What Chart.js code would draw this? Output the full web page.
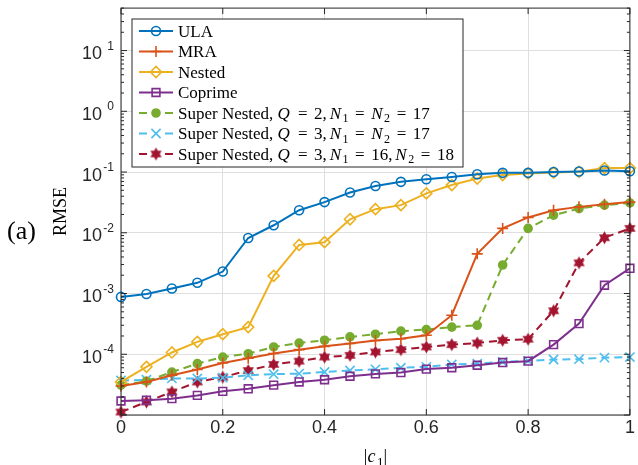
<!DOCTYPE html>
<html>
<head>
<meta charset="utf-8">
<script src="https://cdn.jsdelivr.net/npm/chart.js@4.4.1/dist/chart.umd.min.js"></script>
<style>
  html, body { margin: 0; padding: 0; background: #fff; }
</style>
</head>
<body>
<canvas id="rmse-chart" width="638" height="465"></canvas>
<script>
// |c1| sweep
const magnitudes = [0, 0.05, 0.1, 0.15, 0.2, 0.25, 0.3, 0.35, 0.4, 0.45, 0.5,
                    0.55, 0.6, 0.65, 0.7, 0.75, 0.8, 0.85, 0.9, 0.95, 1];

const seriesNames = [
    'ULA',
    'MRA',
    'Nested',
    'Coprime',
    'Super Nested, Q = 2, N₁ = N₂ = 17',
    'Super Nested, Q = 3, N₁ = N₂ = 17',
    'Super Nested, Q = 3, N₁ = 16, N₂ = 18'
];

const ula = [8.8e-4, 9.8e-4, 1.21e-3, 1.5e-3, 2.3e-3, 8.2e-3, 1.33e-2, 2.35e-2, 3.2e-2, 4.6e-2, 5.9e-2,
             6.9e-2, 7.6e-2, 8.3e-2, 9.2e-2, 9.7e-2, 9.7e-2, 0.1, 0.102, 0.106, 0.103];
const mra = [3.0e-5, 3.5e-5, 4.5e-5, 5.6e-5, 7.2e-5, 8.6e-5, 1.03e-4, 1.19e-4, 1.35e-4, 1.5e-4, 1.68e-4,
             1.8e-4, 2.05e-4, 4.4e-4, 4.5e-3, 1.18e-2, 1.79e-2, 2.35e-2, 2.67e-2, 2.96e-2, 3.2e-2];
const nested = [3.5e-5, 6.2e-5, 1.07e-4, 1.6e-4, 2.14e-4, 2.8e-4, 1.95e-3, 6.3e-3, 7.0e-3, 1.67e-2, 2.45e-2,
                2.85e-2, 4.45e-2, 6.1e-2, 7.8e-2, 8.9e-2, 9.5e-2, 9.8e-2, 0.101, 0.116, 0.116];
const coprime = [1.7e-5, 1.75e-5, 1.86e-5, 2.1e-5, 2.45e-5, 2.7e-5, 3.1e-5, 3.5e-5, 3.8e-5, 4.35e-5, 4.75e-5,
                 5.0e-5, 5.7e-5, 6.0e-5, 6.6e-5, 7.3e-5, 7.7e-5, 1.44e-4, 3.2e-4, 1.37e-3, 2.6e-3];
const superQ2 = [3.1e-5, 3.6e-5, 5.1e-5, 7.0e-5, 9.0e-5, 1.02e-4, 1.32e-4, 1.53e-4, 1.7e-4, 1.93e-4, 2.14e-4,
                 2.4e-4, 2.55e-4, 2.8e-4, 3.0e-4, 2.95e-3, 1.18e-2, 1.95e-2, 2.5e-2, 2.85e-2, 3.1e-2];
const superQ3 = [3.7e-5, 3.8e-5, 4.0e-5, 4.0e-5, 4.1e-5, 4.5e-5, 4.7e-5, 4.8e-5, 5.1e-5, 5.4e-5, 5.65e-5,
                 6.0e-5, 6.2e-5, 6.8e-5, 7.0e-5, 7.5e-5, 7.8e-5, 8.2e-5, 8.3e-5, 8.8e-5, 9.0e-5];
const superQ3b = [1.12e-5, 1.64e-5, 2.4e-5, 3.5e-5, 4.2e-5, 5.4e-5, 6.8e-5, 7.7e-5, 9.0e-5, 9.6e-5, 1.09e-4,
                  1.19e-4, 1.32e-4, 1.44e-4, 1.53e-4, 1.7e-4, 1.77e-4, 5.2e-4, 3.2e-3, 8.3e-3, 1.18e-2];

const xTicks = [0, 0.2, 0.4, 0.6, 0.8, 1];
const xTickLabels = ['0', '0.2', '0.4', '0.6', '0.8', '1'];
const yTicks = [1e-4, 1e-3, 1e-2, 1e-1, 1, 10];
const yTickExponents = ['-4', '-3', '-2', '-1', '0', '1'];
const yGrid = [1e-5, 1e-4, 1e-3, 1e-2, 1e-1, 1, 10];

const SERIF = '"Liberation Serif", "DejaVu Serif", serif';
const SANS = '"Liberation Sans", Arial, sans-serif';

// filled six-point star, MATLAB 'h' marker
function hexagram(color, r) {
    const c = document.createElement('canvas');
    const s = Math.ceil(r * 2 + 2);
    c.width = c.height = s;
    const g = c.getContext('2d');
    g.fillStyle = color;
    g.beginPath();
    for (let i = 0; i < 12; i++) {
        const a = -Math.PI / 2 + i * Math.PI / 6;
        const rr = i % 2 === 0 ? r : r * 0.577;
        g.lineTo(s / 2 + rr * Math.cos(a), s / 2 + rr * Math.sin(a));
    }
    g.closePath();
    g.fill();
    return c;
}

const styles = [
    { color: '#0072BD', marker: 'circle',   radius: 4.5, filled: false, dash: [] },
    { color: '#D95319', marker: 'cross',    radius: 5.5, filled: false, dash: [] },
    { color: '#EDB120', marker: 'rectRot',  radius: 5.5, filled: false, dash: [] },
    { color: '#7E2F8E', marker: 'rect',     radius: 5.5, filled: false, dash: [] },
    { color: '#77AC30', marker: 'circle',   radius: 4,   filled: true,  dash: [8, 5] },
    { color: '#4DBEEE', marker: 'crossRot', radius: 6.5, filled: false, dash: [8, 5] },
    { color: '#A2142F', marker: hexagram('#A2142F', 6.5), radius: 6, filled: true, dash: [8, 5] }
];

const allSeries = [ula, mra, nested, coprime, superQ2, superQ3, superQ3b];

const datasets = allSeries.map((vals, i) => ({
    label: seriesNames[i],
    data: vals.map((v, k) => ({ x: magnitudes[k], y: v })),
    borderColor: styles[i].color,
    borderWidth: 2,
    borderDash: styles[i].dash,
    pointStyle: styles[i].marker,
    pointRadius: styles[i].radius,
    pointBorderWidth: 1.6,
    pointBorderColor: styles[i].color,
    pointBackgroundColor: styles[i].filled ? styles[i].color : 'rgba(0,0,0,0)',
    tension: 0,
    clip: false
}));

// text with TeX-like math: italic letters, subscript digits, relation spacing
function drawRich(ctx, text, x, y, size, mathFrom, draw) {
    const subs = '₀₁₂₃₄₅₆₇₈₉';
    let cx = x;
    let i = 0;
    while (i < text.length) {
        const ch = text[i];
        const s = subs.indexOf(ch);
        const inMath = i >= mathFrom;
        if (s >= 0) {
            ctx.font = Math.round(size * 0.7) + 'px ' + SERIF;
            if (draw) ctx.fillText(String(s), cx, y + size * 0.22);
            cx += ctx.measureText(String(s)).width;
            i++;
        } else if (inMath && /[A-Za-z]/.test(ch)) {
            ctx.font = 'italic ' + size + 'px ' + SERIF;
            if (draw) ctx.fillText(ch, cx, y);
            cx += ctx.measureText(ch).width + 1.5;
            i++;
        } else if (inMath && ch === '=') {
            ctx.font = size + 'px ' + SERIF;
            const w = ctx.measureText('=').width;
            const cell = size * 0.78;
            if (draw) ctx.fillText('=', cx + (cell - w) / 2, y);
            cx += cell;
            i++;
        } else if (inMath && ch === ' ') {
            const nearRel = text[i - 1] === '=' || text[i + 1] === '=';
            cx += size * (nearRel ? 0.278 : 0.167);
            i++;
        } else {
            let run = '';
            while (i < text.length && subs.indexOf(text[i]) < 0 &&
                   !(i >= mathFrom && /[A-Za-z= ]/.test(text[i]))) {
                run += text[i];
                i++;
            }
            ctx.font = size + 'px ' + SERIF;
            if (draw) ctx.fillText(run, cx, y);
            cx += ctx.measureText(run).width;
        }
    }
    return cx - x;
}

function markerAt(ctx, st, x, y) {
    ctx.save();
    ctx.setLineDash([]);
    ctx.lineWidth = 1.6;
    ctx.strokeStyle = st.color;
    ctx.fillStyle = st.filled ? st.color : 'rgba(0,0,0,0)';
    Chart.helpers.drawPoint(ctx, { pointStyle: st.marker, radius: st.radius, borderWidth: 1.6, rotation: 0 }, x, y);
    ctx.restore();
}

const matlabDecor = {
    id: 'matlabDecor',
    afterDatasetsDraw(chart) {
        const { ctx, chartArea: a, scales: { x, y } } = chart;
        ctx.save();

        // axes box
        ctx.strokeStyle = '#262626';
        ctx.lineWidth = 1;
        ctx.strokeRect(a.left, a.top, a.right - a.left, a.bottom - a.top);

        // ticks, inward, both sides
        ctx.beginPath();
        xTicks.forEach(v => {
            const px = x.getPixelForValue(v);
            ctx.moveTo(px, a.bottom); ctx.lineTo(px, a.bottom - 6);
            ctx.moveTo(px, a.top); ctx.lineTo(px, a.top + 6);
        });
        for (let e = -5; e <= 1; e++) {
            for (let m = 1; m <= 9; m++) {
                const v = m * Math.pow(10, e);
                if (v > y.max) break;
                const py = y.getPixelForValue(v);
                const len = m === 1 ? 6 : 3;
                ctx.moveTo(a.left, py); ctx.lineTo(a.left + len, py);
                ctx.moveTo(a.right, py); ctx.lineTo(a.right - len, py);
            }
        }
        ctx.stroke();

        // tick labels
        ctx.fillStyle = '#262626';
        ctx.textBaseline = 'alphabetic';
        ctx.font = '18px ' + SANS;
        ctx.textAlign = 'center';
        xTicks.forEach((v, i) => ctx.fillText(xTickLabels[i], x.getPixelForValue(v), 433));
        yTicks.forEach((v, i) => {
            const py = y.getPixelForValue(v);
            ctx.textAlign = 'right';
            ctx.font = '18px ' + SANS;
            ctx.fillText('10', 102, py + 8.5);
            ctx.font = '12px ' + SANS;
            ctx.fillText(yTickExponents[i], 114, py - 1);
        });

        // axis titles
        ctx.fillStyle = '#000';
        ctx.textAlign = 'left';
        const xtW = drawRich(ctx, '|c₁|', 0, 0, 18, 0, false);
        drawRich(ctx, '|c₁|', (a.left + a.right) / 2 - xtW / 2, 462, 18, 0, true);

        ctx.save();
        ctx.translate(66, (a.top + a.bottom) / 2);
        ctx.rotate(-Math.PI / 2);
        ctx.textAlign = 'center';
        ctx.font = '18px ' + SERIF;
        ctx.fillText('RMSE', 0, 0);
        ctx.restore();

        ctx.font = '26px ' + SERIF;
        ctx.textAlign = 'left';
        ctx.fillText('(a)', 7, 239);

        // legend
        const lg = { left: 132, top: 19, right: 463, bottom: 167 };
        ctx.fillStyle = '#fff';
        ctx.fillRect(lg.left, lg.top, lg.right - lg.left, lg.bottom - lg.top);
        ctx.strokeStyle = '#262626';
        ctx.lineWidth = 1;
        ctx.strokeRect(lg.left, lg.top, lg.right - lg.left, lg.bottom - lg.top);

        seriesNames.forEach((name, i) => {
            const st = styles[i];
            const ry = 31 + i * 20.5;
            ctx.strokeStyle = st.color;
            ctx.lineWidth = 2;
            ctx.setLineDash([]);
            ctx.beginPath();
            if (st.dash.length) {
                ctx.moveTo(139, ry); ctx.lineTo(147, ry);
                ctx.moveTo(165, ry); ctx.lineTo(173, ry);
            } else {
                ctx.moveTo(139, ry); ctx.lineTo(173, ry);
            }
            ctx.stroke();
            markerAt(ctx, st, 156, ry);

            ctx.fillStyle = '#000';
            ctx.textAlign = 'left';
            const mathFrom = name.indexOf('=') >= 0 ? name.indexOf(', ') + 2 : name.length;
            drawRich(ctx, name, 178, ry + 5.5, 17, mathFrom, true);
        });

        ctx.restore();
    }
};

new Chart(document.querySelector('#rmse-chart'), {
    type: 'line',
    data: { datasets: datasets },
    options: {
        responsive: false,
        animation: false,
        events: [],
        layout: { padding: { left: 0, right: 3, top: 8, bottom: 0 } },
        plugins: {
            legend: { display: false },
            tooltip: { enabled: false }
        },
        scales: {
            x: {
                type: 'linear',
                min: 0,
                max: 1,
                afterBuildTicks: s => { s.ticks = xTicks.map(v => ({ value: v })); },
                afterFit: s => { s.height = 50; },
                ticks: { display: false },
                grid: { color: '#dfdfdf', lineWidth: 1, drawTicks: false },
                border: { display: false }
            },
            y: {
                type: 'logarithmic',
                min: 1e-5,
                max: 50,
                afterBuildTicks: s => { s.ticks = yGrid.map(v => ({ value: v })); },
                afterFit: s => { s.width = 121; },
                ticks: { display: false },
                grid: { color: '#dfdfdf', lineWidth: 1, drawTicks: false },
                border: { display: false }
            }
        }
    },
    plugins: [matlabDecor]
});
</script>
</body>
</html>
